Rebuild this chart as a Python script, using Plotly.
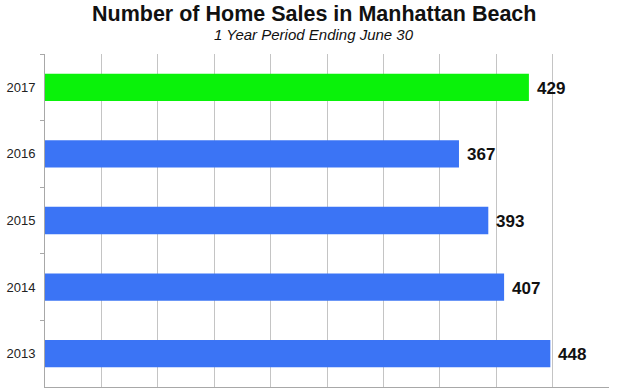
import plotly.graph_objects as go

years = ["2017", "2016", "2015", "2014", "2013"]
sales = [429, 367, 393, 407, 448]
bar_colors = ["#0af20a", "#3b74f5", "#3b74f5", "#3b74f5", "#3b74f5"]
title_text = "Number of Home Sales in Manhattan Beach"
subtitle_text = "1 Year Period Ending June 30"

fig = go.Figure()
fig.add_trace(go.Bar(
    x=sales, y=years, orientation="h",
    marker=dict(color=bar_colors, line=dict(width=0)),
    hoverinfo="skip",
))

annotations = []
for i, (yr, v) in enumerate(zip(years, sales)):
    annotations.append(dict(
        x=v, y=i, xref="x", yref="y", text=f"<b>{v}</b>",
        showarrow=False, xanchor="left", yanchor="middle", xshift=6, yshift=-1,
        font=dict(family="Liberation Sans", size=17, color="#111111"),
    ))
annotations.append(dict(
    x=0.477, y=1.1216, xref="paper", yref="paper", text=f"<b>{title_text}</b>",
    showarrow=False, xanchor="center", yanchor="middle",
    font=dict(family="Liberation Sans", size=21.5, color="#111111"),
))
annotations.append(dict(
    x=0.477, y=1.0571, xref="paper", yref="paper", text=f"<i>{subtitle_text}</i>",
    showarrow=False, xanchor="center", yanchor="middle",
    font=dict(family="Liberation Sans", size=15, color="#111111"),
))

fig.update_layout(
    width=628, height=390,
    margin=dict(l=45, r=19, t=54, b=3, autoexpand=False),
    paper_bgcolor="white", plot_bgcolor="white",
    showlegend=False,
    bargap=0.59,
    annotations=annotations,
    xaxis=dict(
        range=[0, 500], dtick=50, tick0=0, automargin=False,
        showgrid=True, gridcolor="#c4c4c4", gridwidth=1,
        showticklabels=False, showline=True, linecolor="#a8a8a8", linewidth=1,
        zeroline=False, fixedrange=True,
    ),
    yaxis=dict(
        type="category", categoryorder="array", categoryarray=years,
        range=[len(years) - 0.5, -0.5], autorange=False, automargin=False,
        showgrid=False, showline=True, linecolor="#a8a8a8", linewidth=1,
        ticks="outside", tickson="boundaries", ticklen=4, tickcolor="#a8a8a8",
        tickfont=dict(family="Liberation Sans", size=13, color="#222222"),
        ticklabelstandoff=6,
        fixedrange=True,
    ),
)

# remove the browser's default 8px body margin so the figure fills the window
fig.write_html(
    "out.html",
    config={"displayModeBar": False, "staticPlot": True},
    post_script="document.body.style.margin='0px';document.body.style.overflow='hidden';",
)
